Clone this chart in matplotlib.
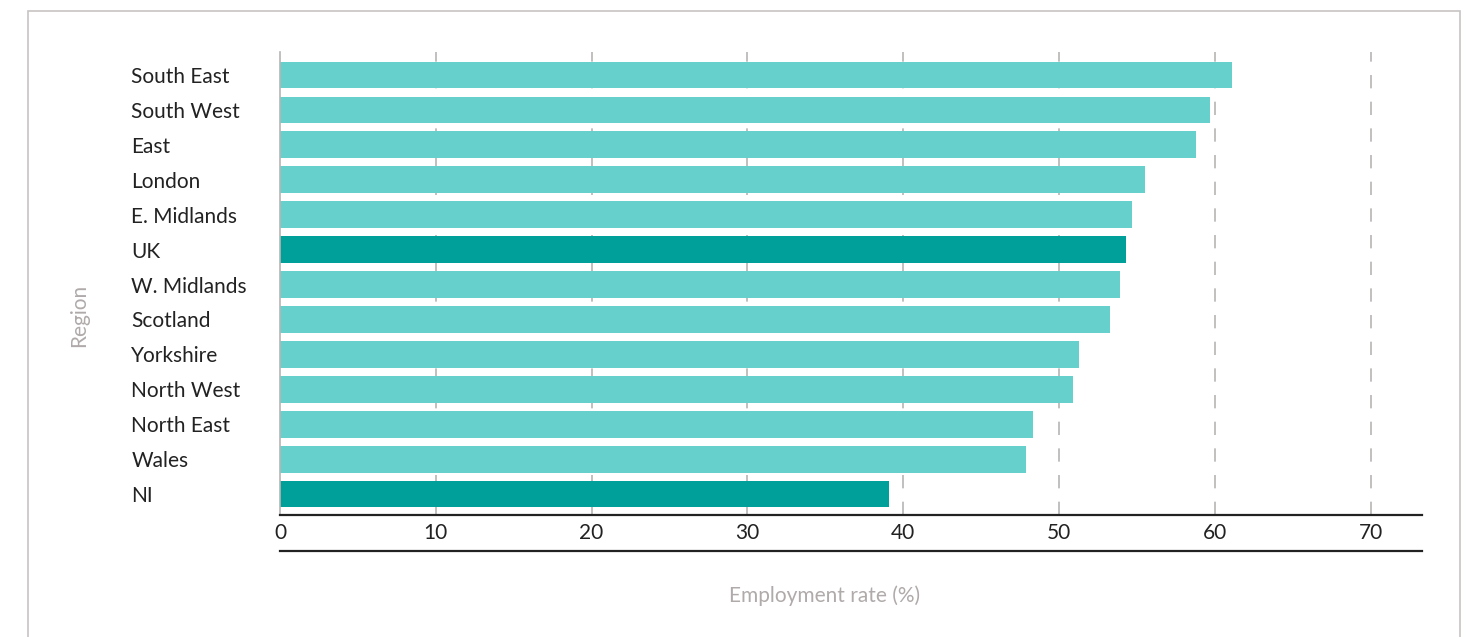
import matplotlib
matplotlib.use('Agg')
import matplotlib.pyplot as plt
from matplotlib.patches import Rectangle

regioes = ['South East', 'South West', 'East', 'London', 'E. Midlands', 'UK',
           'W. Midlands', 'Scotland', 'Yorkshire', 'North West', 'North East',
           'Wales', 'NI']
taxa = [61.1, 59.7, 58.8, 55.5, 54.7, 54.3, 53.9, 53.3, 51.3, 50.9, 48.3, 47.9, 39.1]
destaque = ['UK', 'NI']
xticks = [0, 10, 20, 30, 40, 50, 60, 70]

plt.rcParams['font.family'] = ['Lato', 'DejaVu Sans']

cor_clara = '#66d1cc'
cor_escura = '#00a09a'
cores = [cor_escura if r in destaque else cor_clara for r in regioes]

fig = plt.figure(figsize=(14.71, 6.37), dpi=100)
W, H = 1471, 637
ax = fig.add_axes([280 / W, 1 - 515 / H, (1422 - 280) / W, (515 - 52) / H])

# moldura
fig.patches.append(Rectangle((28 / W, -0.1), (1460 - 28) / W, 1.1 - 11 / H,
                             transform=fig.transFigure, fill=False,
                             edgecolor='#c8c4c4', linewidth=1.2))

pos = list(range(len(regioes)))
ax.barh(pos, taxa, height=0.77, color=cores, zorder=2)
ax.set_ylim(len(regioes) - 1 + 0.6, -0.66)
ax.set_xlim(0, 73.3)

ax.set_xticks(xticks)
ax.set_xticklabels([str(t) for t in xticks], fontsize=15, color='#222222')
ax.set_yticks(pos)
ax.set_yticklabels(regioes, fontsize=15, color='#222222', ha='left')
ax.tick_params(axis='y', length=0, pad=107)
ax.tick_params(axis='x', length=0, pad=6)

for t in xticks[1:]:
    ax.axvline(t, color='#b8b4b4', linewidth=1.2, linestyle=(0, (8, 8)), zorder=1)

for s in ['top', 'right']:
    ax.spines[s].set_visible(False)
ax.spines['left'].set_color('#b8b4b4')
ax.spines['left'].set_linewidth(1.2)
ax.spines['bottom'].set_color('#222222')
ax.spines['bottom'].set_linewidth(1.6)

# segunda linha abaixo dos rotulos
ax.plot([0, 1], [-36 / 463, -36 / 463], transform=ax.transAxes, color='#222222',
        linewidth=1.6, clip_on=False)

fig.text(825 / W, 1 - 596 / H, 'Employment rate (%)', fontsize=15, color='#b0aaaa',
         ha='center', va='center')
fig.text(79 / W, 1 - 315 / H, 'Region', fontsize=15, color='#b0aaaa',
         ha='center', va='center', rotation=90)

fig.savefig('out.png', dpi=100)
